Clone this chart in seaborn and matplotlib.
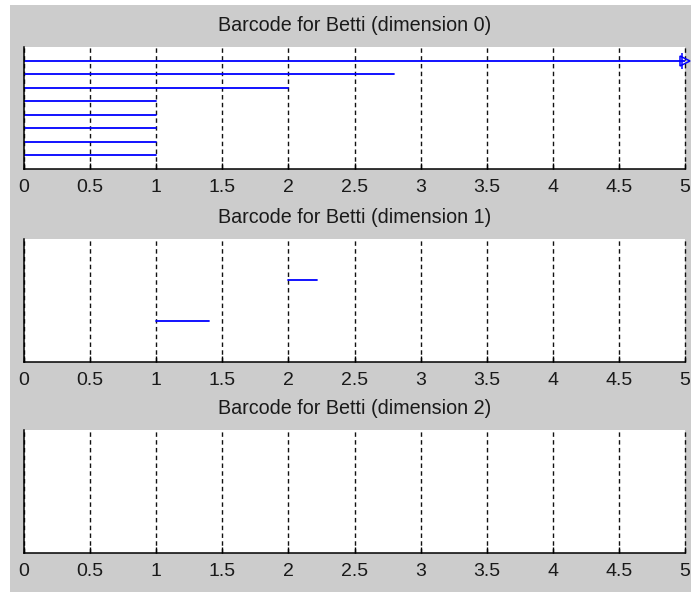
import numpy as np
import pandas as pd
import matplotlib
matplotlib.use("Agg")
import matplotlib.pyplot as plt
from matplotlib.patches import Rectangle
import seaborn as sns

sns.set_style("white")
plt.rcParams['font.family'] = ['Liberation Sans', 'DejaVu Sans']

# ---- data ----
titles = ["Barcode for Betti (dimension 0)",
          "Barcode for Betti (dimension 1)",
          "Barcode for Betti (dimension 2)"]
dim0_birth = [0, 0, 0, 0, 0, 0, 0, 0]
dim0_death = [np.inf, 2.8, 2.0, 1.0, 1.0, 1.0, 1.0, 1.0]
dim1_birth = [2.0, 1.0]
dim1_death = [2.22, 1.4]
dim2_birth = []
dim2_death = []
x_max = 5.0
xticks = [0, 0.5, 1, 1.5, 2, 2.5, 3, 3.5, 4, 4.5, 5]
xtick_labels = ["0", "0.5", "1", "1.5", "2", "2.5", "3", "3.5", "4", "4.5", "5"]

W, H = 691, 592
fig = plt.figure(figsize=(W / 100, H / 100), dpi=100, facecolor="white")
fig.patches.append(Rectangle((10 / W, 0), 1 - 10 / W, 1 - 5 / H,
                             transform=fig.transFigure, facecolor="#cccccc",
                             edgecolor="none", zorder=-10))

panels = [(47, 169), (239, 362), (430, 553)]
births = [dim0_birth, dim1_birth, dim2_birth]
deaths = [dim0_death, dim1_death, dim2_death]
left_px, right_px = 24, 685

for i, ((top, bot), b, d, t) in enumerate(zip(panels, births, deaths, titles)):
    ax = fig.add_axes([left_px / W, 1 - bot / H, (right_px - left_px) / W, (bot - top) / H])
    ax.set_facecolor("white")
    n = len(b)
    rows = []
    for k, (bb, dd) in enumerate(zip(b, d)):
        level = n - k
        end = x_max if np.isinf(dd) else dd
        rows.append({"x": bb, "y": level, "bar": k})
        rows.append({"x": end, "y": level, "bar": k})
    if rows:
        df = pd.DataFrame(rows)
        sns.lineplot(data=df, x="x", y="y", units="bar", estimator=None,
                     color="#0000ff", lw=1.3, ax=ax, sort=False, legend=False)
        for k, (bb, dd) in enumerate(zip(b, d)):
            if np.isinf(dd):
                level = n - k
                ax.plot([x_max], [level], marker=">", ms=7, mfc="none",
                        mec="#0000ff", mew=1.1, clip_on=False, zorder=5)
                ax.plot([x_max - 0.02], [level], marker="|", ms=11, mec="#0000ff",
                        mew=1.1, clip_on=False, zorder=5)
    ax.set_xlim(0, x_max)
    ax.set_ylim(0, n + 1 if n else 1)
    ax.set_xticks(xticks)
    ax.set_xticklabels(xtick_labels)
    ax.set_yticks([])
    ax.set_xlabel("")
    ax.set_ylabel("")
    ax.grid(axis="x", color="#111111", ls=(0, (3.2, 2.4)), lw=1.0)
    ax.grid(axis="y", visible=False)
    for gl in ax.get_xgridlines():
        gl.set_clip_on(False)
    ax.set_axisbelow(True)
    for s in ["top", "right"]:
        ax.spines[s].set_visible(False)
    for s in ["left", "bottom"]:
        ax.spines[s].set_color("black")
        ax.spines[s].set_linewidth(1.1)
    ax.tick_params(axis="x", direction="in", length=4, width=1.0, color="black",
                   pad=7.5, labelsize=14, labelcolor="#1a1a1a", bottom=True, top=False)
    ax.set_title(t, y=1 + 16 / (bot - top), pad=0, fontsize=14.2, color="#1a1a1a",
                 va="baseline")

fig.savefig("out.png", dpi=100, facecolor="white")
